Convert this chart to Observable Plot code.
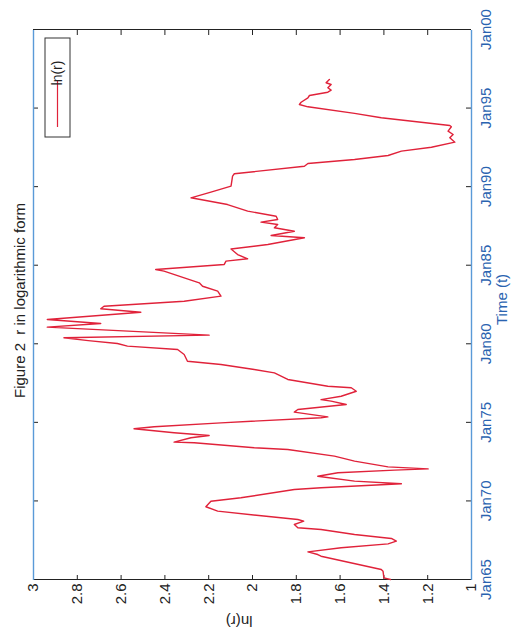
<!DOCTYPE html>
<html><head><meta charset="utf-8">
<script src="https://cdn.jsdelivr.net/npm/d3@7"></script>
<script src="https://cdn.jsdelivr.net/npm/@observablehq/plot@0.6"></script>
<style>
html,body{margin:0;padding:0;background:#fff;width:511px;height:635px;overflow:hidden}
#wrap{position:absolute;left:-62px;top:62px;width:635px;height:511px;transform:rotate(-90deg);transform-origin:50% 50%;background:#fff}
#wrap svg{display:block}
</style></head><body><div id="wrap"></div>
<script>
// time in decimal years
const years = [1965.00,1965.10,1965.53,1965.64,1966.48,1966.59,1966.76,1967.02,1967.27,1967.44,1967.61,1967.86,1968.18,1968.29,1968.50,1968.71,1968.82,1968.99,1969.35,1969.63,1969.98,1970.20,1970.73,1970.84,1971.09,1971.26,1971.57,1971.79,1971.96,1972.04,1972.17,1972.53,1972.85,1973.27,1973.38,1973.70,1973.74,1974.02,1974.16,1974.34,1974.59,1974.72,1974.97,1975.29,1975.35,1975.65,1975.82,1976.14,1976.35,1976.45,1976.66,1976.98,1977.20,1977.30,1977.73,1978.15,1978.36,1978.68,1978.89,1979.32,1979.64,1979.85,1980.02,1980.20,1980.38,1980.55,1981.06,1981.29,1981.55,1982.01,1982.23,1982.39,1982.71,1983.03,1983.35,1983.66,1983.88,1984.62,1984.73,1985.05,1985.26,1985.41,1985.68,1986.03,1986.32,1986.75,1986.89,1987.16,1987.38,1987.59,1987.74,1987.91,1988.12,1988.44,1988.86,1989.29,1989.65,1990.03,1990.67,1990.82,1991.30,1991.47,1991.73,1991.98,1992.26,1992.51,1992.83,1993.11,1993.32,1993.53,1993.81,1993.89,1994.38,1994.66,1995.08,1995.23,1995.37,1995.65,1995.80,1996.01,1996.14,1996.29,1996.50,1996.61,1996.82];
const lnR = [1.37,1.40,1.404,1.412,1.687,1.702,1.747,1.595,1.381,1.343,1.366,1.534,1.687,1.793,1.809,1.766,1.793,1.915,2.159,2.213,2.190,2.053,1.809,1.687,1.320,1.534,1.702,1.610,1.351,1.198,1.381,1.534,1.626,1.839,1.992,2.266,2.358,2.281,2.198,2.358,2.541,2.449,2.144,1.687,1.656,1.809,1.793,1.572,1.641,1.687,1.595,1.526,1.549,1.656,1.839,1.900,1.992,2.144,2.297,2.312,2.342,2.571,2.617,2.75,2.861,2.198,2.937,2.693,2.937,2.510,2.693,2.678,2.312,2.144,2.159,2.228,2.243,2.404,2.442,2.129,2.121,2.022,2.068,2.098,1.930,1.763,1.915,1.809,1.900,1.885,1.961,1.885,1.892,2.022,2.114,2.281,2.190,2.098,2.091,2.083,1.763,1.747,1.534,1.381,1.320,1.183,1.076,1.099,1.084,1.107,1.092,1.099,1.412,1.534,1.747,1.786,1.778,1.747,1.740,1.656,1.641,1.656,1.641,1.664,1.649];

const timeTicks = [1965,1970,1975,1980,1985,1990,1995,2000];
const timeTickLabels = ["Jan65","Jan70","Jan75","Jan80","Jan85","Jan90","Jan95","Jan00"];
const lnTicks = [3,2.8,2.6,2.4,2.2,2,1.8,1.6,1.4,1.2,1];
const lnTickLabels = ["3","2.8","2.6","2.4","2.2","2","1.8","1.6","1.4","1.2","1"];
const titleText = "Figure 2  r in logarithmic form";
const xLabel = "Time (t)";
const yLabel = "ln(r)";
const seriesName = "ln(r)";

const data = years.map((t, i) => ({t, v: lnR[i]}));

const W = 635, H = 511, mL = 55, mR = 30, mT = 33, mB = 40;
const innerW = W - mL - mR, innerH = H - mT - mB;
const blue = "#2a63b0", blueLine = "#5a9ad8", red = "#e0223a", dark = "#222";
const font = "Liberation Sans, Arial, Helvetica, sans-serif";

const chart = Plot.plot({
  width: W, height: H,
  marginLeft: mL, marginRight: mR, marginTop: mT, marginBottom: mB,
  style: {fontFamily: font, background: "#fff", overflow: "visible"},
  x: {domain: [1965, 2000], axis: null},
  y: {domain: [1, 3], axis: null},
  marks: [
    // inward ticks
    Plot.tickX(timeTicks, {x: d => d, insetTop: innerH - 5, stroke: dark, strokeWidth: 1}),
    Plot.tickX(timeTicks, {x: d => d, insetBottom: innerH - 5, stroke: dark, strokeWidth: 1}),
    Plot.tickY(lnTicks, {y: d => d, insetRight: innerW - 5, stroke: dark, strokeWidth: 1}),
    Plot.tickY(lnTicks, {y: d => d, insetLeft: innerW - 5, stroke: dark, strokeWidth: 1}),
    // borders
    Plot.ruleX([1965], {stroke: dark, strokeWidth: 1.2}),
    Plot.ruleX([2000], {stroke: dark, strokeWidth: 1.2}),
    Plot.ruleY([1], {stroke: blueLine, strokeWidth: 1.4}),
    Plot.ruleY([3], {stroke: blueLine, strokeWidth: 1.4}),
    // series
    Plot.line(data, {x: "t", y: "v", stroke: red, strokeWidth: 1.4, strokeLinejoin: "round"}),
    // tick labels
    Plot.text(timeTicks, {x: d => d, text: (d, i) => timeTickLabels[i], frameAnchor: "bottom", lineAnchor: "top", dy: 9, fill: blue, fontSize: 15}),
    Plot.text(lnTicks, {y: d => d, text: (d, i) => lnTickLabels[i], frameAnchor: "left", textAnchor: "end", dx: -4, fill: dark, fontSize: 15}),
    // axis labels and title
    Plot.text([xLabel], {text: d => d, frameAnchor: "bottom", lineAnchor: "top", dy: 25, dx: 5, fill: blue, fontSize: 15}),
    Plot.text([yLabel], {text: d => d, frameAnchor: "left", rotate: -90, dx: -41, fill: dark, fontSize: 15}),
    Plot.text([titleText], {text: d => d, frameAnchor: "top", lineAnchor: "bottom", dy: -9, dx: 4, fill: dark, fontSize: 15})
  ]
});
document.getElementById("wrap").appendChild(chart);

// legend (top-right of frame)
const svg = d3.select(chart.tagName.toLowerCase() === "svg" ? chart : chart.querySelector("svg"));
svg.selectAll("text").attr("xml:space", "preserve").style("white-space", "pre");
const boxR = W - mR - 8, boxL = W - mR - 107, boxT = mT + 12, boxB = mT + 37;
const lg = svg.append("g").attr("font-family", font);
lg.append("rect").attr("x", boxL).attr("y", boxT).attr("width", boxR - boxL).attr("height", boxB - boxT)
  .attr("fill", "#fff").attr("stroke", "#333").attr("stroke-width", 1);
const ly = (boxT + boxB) / 2;
lg.append("line").attr("x1", boxL + 10).attr("x2", boxL + 57).attr("y1", ly).attr("y2", ly)
  .attr("stroke", red).attr("stroke-width", 1.2);
lg.append("text").attr("x", boxL + 64).attr("y", ly).attr("dy", "0.35em").attr("font-size", 14).attr("fill", dark).text(seriesName);
</script>
</body></html>
